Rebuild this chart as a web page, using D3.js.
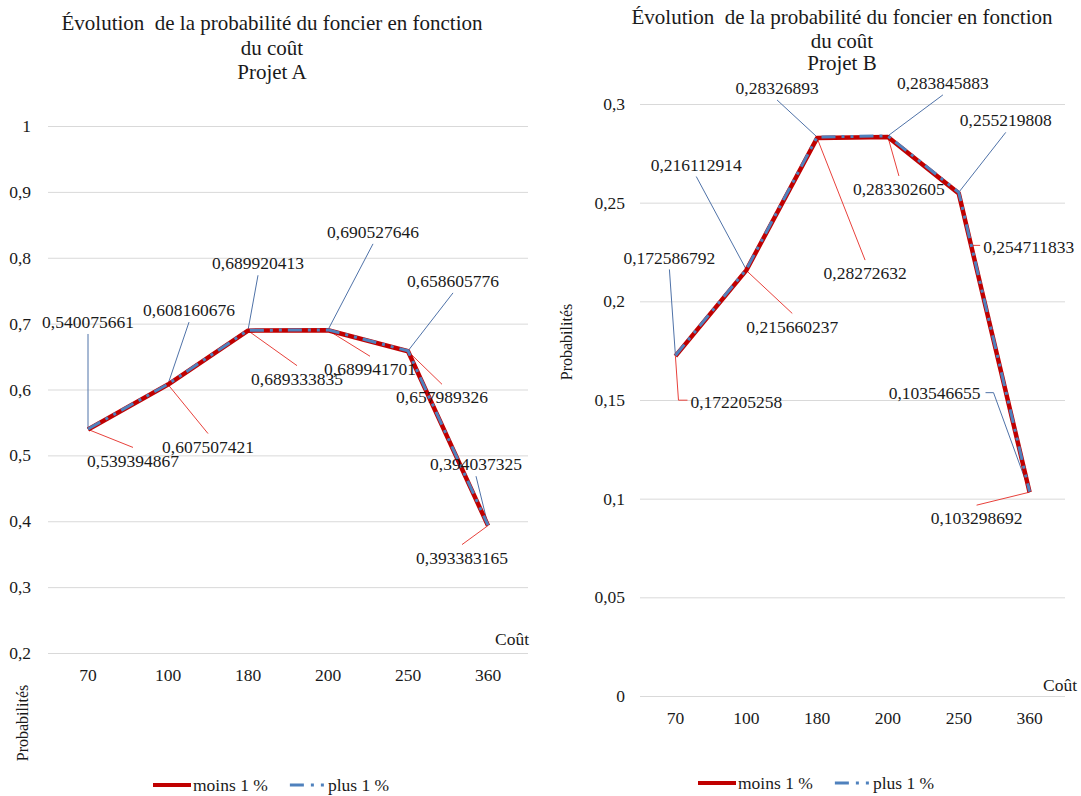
<!DOCTYPE html>
<html>
<head>
<meta charset="utf-8">
<script src="https://cdn.jsdelivr.net/npm/d3@7"></script>
<style>
  body { margin: 0; background: #fff; }
  svg text { font-family: "Liberation Serif", "Times New Roman", Tinos, "DejaVu Serif", serif; fill: #1a1a1a; }
</style>
</head>
<body>
<svg id="chart" width="1081" height="796"></svg>
<script>
// categories (coût) shared by both projects
var categories = ["70", "100", "180", "200", "250", "360"];

// Projet A
var projetA_moins = [0.539394867, 0.607507421, 0.689333835, 0.689941701, 0.657989326, 0.393383165];
var projetA_plus  = [0.540075661, 0.608160676, 0.689920413, 0.690527646, 0.658605776, 0.394037325];
var yTicksA = [0.2, 0.3, 0.4, 0.5, 0.6, 0.7, 0.8, 0.9, 1];

// Projet B
var projetB_moins = [0.172205258, 0.215660237, 0.28272632, 0.283302605, 0.254711833, 0.103298692];
var projetB_plus  = [0.172586792, 0.216112914, 0.28326893, 0.283845883, 0.255219808, 0.103546655];
var yTicksB = [0, 0.05, 0.1, 0.15, 0.2, 0.25, 0.3];

var seriesNames = ["moins 1 %", "plus 1 %"];

// label placement (offset of label centre from its point, optional elbow side)
var labA_moins = [[45, 31], [40, 62], [49, 48], [42, 39], [34, 46], [-26, 32]];
var labA_plus  = [[0, -107], [21, -74], [10, -67], [45, -98], [45, -70], [-12, -61]];
var labB_moins = [[61, 46, "r"], [46, 56], [48, 135], [11, 52], [70, 54, "r"], [-53, 26]];
var labB_plus  = [[-6, -98], [-50, -105], [-40, -49], [55, -53], [47, -72], [-95, -99, "l"]];

var RED = "#C00000", BLUE = "#4F81BD";
var fmt = d3.formatLocale({decimal: ",", thousands: " ", grouping: [3], currency: ["", ""]});
var tickFmt = function(d) { return fmt.format("~g")(+d.toFixed(4)); };
var numFmt = function(v) { return String(v).replace(".", ","); };

var svg = d3.select("#chart");

function drawChart(cfg) {
    var g = svg.append("g");

    var x = d3.scaleBand().domain(categories).range([cfg.left, cfg.right]).padding(0);
    var y = d3.scaleLinear().domain(cfg.domain).range([cfg.bottom, cfg.top]);
    var cx = function(i) { return x(categories[i]) + x.bandwidth() / 2; };

    // title
    g.append("text")
        .attr("text-anchor", "middle")
        .style("font-size", "21px")
        .style("white-space", "pre")
        .selectAll("tspan")
        .data(cfg.title).enter()
        .append("tspan")
        .attr("x", cfg.titleX)
        .attr("y", function(d, i) { return cfg.titleY[i]; })
        .text(function(d) { return d; });

    // y axis + gridlines
    var ya = g.append("g")
        .attr("transform", "translate(" + cfg.left + ",0)")
        .call(d3.axisLeft(y).tickValues(cfg.ticks).tickSize(-(cfg.right - cfg.left)).tickPadding(cfg.yPad).tickFormat(tickFmt));
    ya.select(".domain").remove();
    ya.selectAll("line").attr("stroke", "#d9d9d9");
    ya.selectAll("text").style("font-size", "17.5px").attr("fill", "#1a1a1a");

    // x axis labels
    var xa = g.append("g")
        .attr("transform", "translate(0," + cfg.bottom + ")")
        .call(d3.axisBottom(x).tickSize(0).tickPadding(16));
    xa.select(".domain").remove();
    xa.selectAll("text").style("font-size", "17.5px").attr("fill", "#1a1a1a");

    // axis titles
    g.append("text")
        .attr("x", cfg.coutX).attr("y", cfg.coutY)
        .attr("text-anchor", "end")
        .style("font-size", "17.5px")
        .text("Coût");
    g.append("text")
        .attr("transform", "translate(" + cfg.probX + "," + cfg.probY + ")rotate(-90)")
        .attr("text-anchor", "middle")
        .attr("dy", "0.35em")
        .style("font-size", "16px")
        .text("Probabilités");

    var line = d3.line()
        .x(function(d, i) { return cx(i); })
        .y(function(d) { return y(d); });

    g.append("path").datum(cfg.moins)
        .attr("d", line)
        .attr("fill", "none")
        .attr("stroke", RED)
        .attr("stroke-width", 4.5)
        .attr("stroke-linejoin", "round");
    g.append("path").datum(cfg.plus)
        .attr("d", line)
        .attr("fill", "none")
        .attr("stroke", BLUE)
        .attr("stroke-width", 3)
        .attr("stroke-dasharray", "14,6,3,6,3,6");

    // data labels with leader lines
    function labels(values, offs, col) {
        values.forEach(function(v, i) {
            var px = cx(i), py = y(v);
            var o = offs[i];
            var tx = px + o[0], ty = py + o[1];
            var t = g.append("text")
                .attr("x", tx).attr("y", ty)
                .attr("dy", "0.35em")
                .attr("text-anchor", "middle")
                .style("font-size", "17.5px")
                .text(numFmt(v));
            var w = t.node().getComputedTextLength();
            var pts;
            if (o[2] == "r") {
                var lft = tx - w / 2;
                pts = [[px, py], [lft - 12, ty - 2], [lft - 3, ty - 2]];
            } else if (o[2] == "l") {
                var rgt = tx + w / 2;
                pts = [[px, py], [rgt + 13, ty], [rgt + 5, ty]];
            } else {
                pts = [[px, py], [tx, o[1] < 0 ? ty + 12 : ty - 13]];
            }
            g.insert("path", "path")
                .attr("d", d3.line()(pts))
                .attr("fill", "none")
                .attr("stroke", col)
                .attr("stroke-width", 1);
        });
    }
    labels(cfg.moins, cfg.labMoins, "#E8413B");
    labels(cfg.plus, cfg.labPlus, "#4F72A8");

    // legend
    var lg = g.append("g").attr("transform", "translate(" + cfg.legX + "," + cfg.legY + ")");
    lg.append("line").attr("x1", 0).attr("x2", 38).attr("stroke", RED).attr("stroke-width", 4);
    var t1 = lg.append("text").attr("x", 40).attr("dy", "0.35em").style("font-size", "17.5px").text(seriesNames[0]);
    var x2 = 40 + t1.node().getComputedTextLength() + 22;
    lg.append("line").attr("x1", x2).attr("x2", x2 + 36).attr("stroke", BLUE).attr("stroke-width", 3)
        .attr("stroke-dasharray", "14,7,3,7,3,7");
    lg.append("text").attr("x", x2 + 38).attr("dy", "0.35em").style("font-size", "17.5px").text(seriesNames[1]);
}

drawChart({
    title: ["Évolution  de la probabilité du foncier en fonction", "du coût", "Projet A"],
    titleX: 272, titleY: [30, 55, 79],
    left: 48, right: 528, top: 126, bottom: 653,
    domain: [0.2, 1], ticks: yTicksA, yPad: 17,
    moins: projetA_moins, plus: projetA_plus,
    labMoins: labA_moins, labPlus: labA_plus,
    coutX: 529, coutY: 645, probX: 22, probY: 723,
    legX: 153, legY: 785
});

drawChart({
    title: ["Évolution  de la probabilité du foncier en fonction", "du coût", "Projet B"],
    titleX: 842, titleY: [24, 48, 70],
    left: 640, right: 1065, top: 104, bottom: 696,
    domain: [0, 0.3], ticks: yTicksB, yPad: 15,
    moins: projetB_moins, plus: projetB_plus,
    labMoins: labB_moins, labPlus: labB_plus,
    coutX: 1077, coutY: 691, probX: 566, probY: 342,
    legX: 698, legY: 783
});
</script>
</body>
</html>
